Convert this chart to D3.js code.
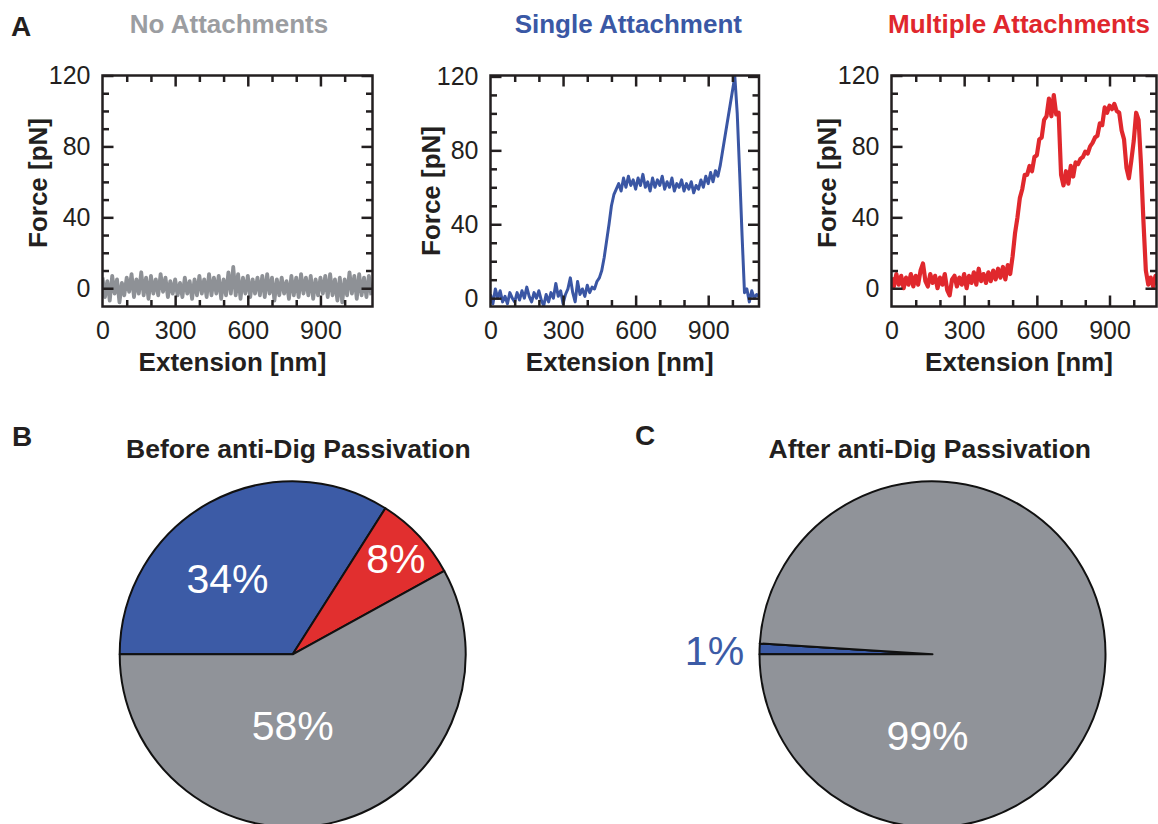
<!DOCTYPE html>
<html><head><meta charset="utf-8">
<script src="https://cdn.jsdelivr.net/npm/d3@7"></script>
<style>
body{margin:0;background:#fff;}
svg text{font-family:"Liberation Sans",Arial,Helvetica,sans-serif;}
</style></head><body>
<svg id="chart" width="1158" height="824"></svg>
<script>
// ---------- DATA ----------
const STEP_NM = 10; // sampling step of the traces (extension, nm)
const forceNone = [
  6,-5,4,-7,7,-3,5,-8,3,-4,
  6,-2,8,-5,5,-3,9,-4,6,-6,
  7,-3,5,-4,8,-2,6,-5,4,-3,
  5,-4,3,-5,6,-3,4,-6,5,-4,
  7,-3,5,-5,8,-4,6,-3,7,-6,
  5,-4,9,-3,12,-4,8,-6,6,-3,
  7,-5,5,-3,6,-4,7,-5,8,-3,
  6,-7,5,-4,6,-3,4,-6,7,-4,
  6,-5,8,-3,6,-4,7,-6,5,-4,
  6,-3,7,-5,8,-4,5,-7,6,-8,
  5,-4,9,-3,7,-6,8,-4,6,-5,
  7,-4];
const forceSingle = [
  2,-3,5,0,4,-2,1,-3,3,0,
  -2,3,-1,4,0,6,1,-2,3,0,
  4,-1,-4,2,-2,3,0,8,1,4,
  -3,2,5,11,3,-2,9,2,5,1,
  7,3,6,5,9,11,15,22,31,40,
  50,56,59,62,58,65,60,66,61,64,
  59,65,61,67,60,63,58,65,60,64,
  61,66,59,63,60,65,58,62,60,64,
  58,62,59,63,57,61,59,64,60,66,
  62,68,63,69,66,72,80,88,96,104,
  112,120,100,68,34,3,5,-2,4,0,
  2,1];
const forceMultiple = [
  6,1,8,2,7,0,6,2,8,1,
  7,2,10,14,4,1,8,3,7,0,
  6,2,8,-1,-4,5,7,1,6,2,
  8,0,7,3,9,2,11,4,8,3,
  9,4,10,5,11,6,12,5,13,8,
  18,31,40,51,56,64,64,69,66,74,
  75,84,85,95,97,107,97,109,98,99,
  64,58,66,59,69,63,71,70,73,74,
  77,76,80,82,85,86,93,92,102,99,
  103,101,104,100,99,89,84,68,62,72,
  83,99,95,70,38,10,2,6,1,7,
  2,6];
const panelTitles = ["No Attachments","Single Attachment","Multiple Attachments"];
const xTickLabels = [0,300,600,900];
const xMinorTicks = [100,200,400,500,700,800,1000];
const xMajorTicks = [300,600,900];
const yTickLabels = [0,40,80,120];
const yMinorTicks = [10,20,30,50,60,70,90,100,110];
const yMajorTicks = [0,40,80,120];
const xAxisTitle = "Extension [nm]";
const yAxisTitle = "Force [pN]";
const pieCategories = ["Single Attachment","Multiple Attachments","No Attachments"];
const pieBefore = [34, 8, 58];
const pieAfter = [1, 0, 99];
const pieTitles = ["Before anti-Dig Passivation","After anti-Dig Passivation"];
const panelLetters = ["A","B","C"];

// ---------- STYLE / LAYOUT ----------
const INK = "#231f20";
const catColor = {"No Attachments":"#909399","Single Attachment":"#3c5ba6","Multiple Attachments":"#e12f2f"};
const titleColor = ["#9b9da1","#3a58a5","#e0272d"];
const traceColor = ["#8e9196","#3a56a4","#e0282d"];
const panels = [
  {x0:102.5, x1:372.5, yMin:-10.3, yMax:120,   xMax:1115, ylabDX:-55.8, ylabY:183, titleX:229,   titleY:33,   sw:3.8},
  {x0:490.5, x1:759,   yMin:-4.5,  yMax:120.5, xMax:1110, ylabDX:-50.5, ylabY:191, titleX:628.3, titleY:32.5, sw:3.0},
  {x0:891.5, x1:1156.5,yMin:-10.3, yMax:120,   xMax:1094, ylabDX:-55.5, ylabY:183, titleX:1019,  titleY:32.5, sw:4.2}
];
const FRAME_TOP = 75.5, FRAME_BOT = 306.5;

const svg = d3.select("#chart");
svg.append("rect").attr("width",1158).attr("height",824).attr("fill","#fff");

const series = [forceNone, forceSingle, forceMultiple];

panels.forEach((p, k) => {
  const w = p.x1 - p.x0, h = FRAME_BOT - FRAME_TOP;
  const x = d3.scaleLinear().domain([0, p.xMax]).range([0, w]);
  const y = d3.scaleLinear().domain([p.yMin, p.yMax]).range([h, 0]);
  const g = svg.append("g").attr("transform", `translate(${p.x0},${FRAME_TOP})`);

  const clipId = "clip" + k;
  g.append("clipPath").attr("id", clipId).append("rect").attr("width", w).attr("height", h);

  const line = d3.line().x((d,i) => x(i*STEP_NM)).y(d => y(d));
  g.append("path").datum(series[k])
    .attr("clip-path", `url(#${clipId})`)
    .attr("d", line).attr("fill","none")
    .attr("stroke", traceColor[k]).attr("stroke-width", p.sw)
    .attr("stroke-linejoin","round");

  // inward ticks on four sides
  const tickAxis = (axis, tr) => {
    const a = g.append("g").attr("transform", tr).call(axis);
    a.select(".domain").remove();
    a.selectAll("line").attr("stroke", INK).attr("stroke-width", 2.5);
    a.selectAll("text").remove();
  };
  tickAxis(d3.axisBottom(x).tickValues(xMajorTicks).tickSizeInner(-11).tickSizeOuter(0), `translate(0,${h})`);
  tickAxis(d3.axisBottom(x).tickValues(xMinorTicks).tickSizeInner(-6.5).tickSizeOuter(0), `translate(0,${h})`);
  tickAxis(d3.axisTop(x).tickValues(xMajorTicks).tickSizeInner(-11).tickSizeOuter(0), `translate(0,0)`);
  tickAxis(d3.axisTop(x).tickValues(xMinorTicks).tickSizeInner(-6.5).tickSizeOuter(0), `translate(0,0)`);
  tickAxis(d3.axisLeft(y).tickValues(yMajorTicks).tickSizeInner(-11).tickSizeOuter(0), `translate(0,0)`);
  tickAxis(d3.axisLeft(y).tickValues(yMinorTicks).tickSizeInner(-6.5).tickSizeOuter(0), `translate(0,0)`);
  tickAxis(d3.axisRight(y).tickValues(yMajorTicks).tickSizeInner(-11).tickSizeOuter(0), `translate(${w},0)`);
  tickAxis(d3.axisRight(y).tickValues(yMinorTicks).tickSizeInner(-6.5).tickSizeOuter(0), `translate(${w},0)`);

  // tick labels
  const xl = g.append("g").attr("transform", `translate(0,${h})`)
    .call(d3.axisBottom(x).tickValues(xTickLabels).tickSize(0).tickPadding(14.3).tickFormat(d3.format("d")));
  xl.select(".domain").remove();
  xl.attr("font-size", 25).attr("font-family", null);
  xl.selectAll("text").attr("fill", INK);
  const yl = g.append("g")
    .call(d3.axisLeft(y).tickValues(yTickLabels).tickSize(0).tickPadding(12).tickFormat(d3.format("d")));
  yl.select(".domain").remove();
  yl.attr("font-size", 25).attr("font-family", null);
  yl.selectAll("text").attr("fill", INK);

  // frame
  g.append("rect").attr("width", w).attr("height", h)
    .attr("fill","none").attr("stroke", INK).attr("stroke-width", 2.5);

  // axis titles
  svg.append("text").attr("x", (p.x0+p.x1)/2 - 5).attr("y", 371)
    .attr("text-anchor","middle").attr("font-size",26).attr("font-weight","bold")
    .attr("fill", INK).text(xAxisTitle);
  svg.append("text").attr("transform", `translate(${p.x0 + p.ylabDX},${p.ylabY}) rotate(-90)`)
    .attr("text-anchor","middle").attr("font-size",26).attr("font-weight","bold")
    .attr("fill", INK).text(yAxisTitle);

  // panel title
  svg.append("text").attr("x", p.titleX).attr("y", p.titleY)
    .attr("text-anchor","middle").attr("font-size",26).attr("font-weight","bold")
    .attr("fill", titleColor[k]).text(panelTitles[k]);
});

// panel letters
[[11,35.5],[12,445.5],[635,445]].forEach((pos,i) => {
  svg.append("text").attr("x",pos[0]).attr("y",pos[1])
    .attr("font-size",28).attr("font-weight","bold").attr("fill",INK).text(panelLetters[i]);
});

// ---------- PIES ----------
const R = 173;
const pieGen = d3.pie().sort(null).value(d => d).startAngle(-Math.PI/2).endAngle(1.5*Math.PI);
const arcGen = d3.arc().innerRadius(0).outerRadius(R);
const pies = [
  {values: pieBefore, cx:292.7, cy:654.3, titleX:298.3,
   labels:[{dx:-65.2, dy:-61.6, fill:"#fff"},{dx:103.1, dy:-81, fill:"#fff"},{dx:0.1, dy:85.7, fill:"#fff"}]},
  {values: pieAfter, cx:932.5, cy:654.3, titleX:929.8,
   labels:[{dx:-218, dy:10.7, fill:"#3c5ba6"},null,{dx:-5, dy:95.7, fill:"#fff"}]}
];
pies.forEach((pc, j) => {
  const g = svg.append("g").attr("transform", `translate(${pc.cx},${pc.cy})`);
  const arcs = pieGen(pc.values);
  g.selectAll("path").data(arcs).join("path")
    .attr("d", arcGen)
    .attr("fill", (d,i) => catColor[pieCategories[i]])
    .attr("stroke", "#111").attr("stroke-width", 2)
    .attr("stroke-linejoin","round");
  arcs.forEach((a, i) => {
    const lb = pc.labels[i];
    if (!lb || a.data <= 0) return;
    svg.append("text")
      .attr("x", pc.cx + lb.dx).attr("y", pc.cy + lb.dy)
      .attr("text-anchor","middle").attr("font-size",41).attr("fill", lb.fill)
      .text(a.data + "%");
  });
  svg.append("text").attr("x", pc.titleX).attr("y", 458.3)
    .attr("text-anchor","middle").attr("font-size",26.5).attr("font-weight","bold")
    .attr("fill", INK).text(pieTitles[j]);
});
</script>
</body></html>
